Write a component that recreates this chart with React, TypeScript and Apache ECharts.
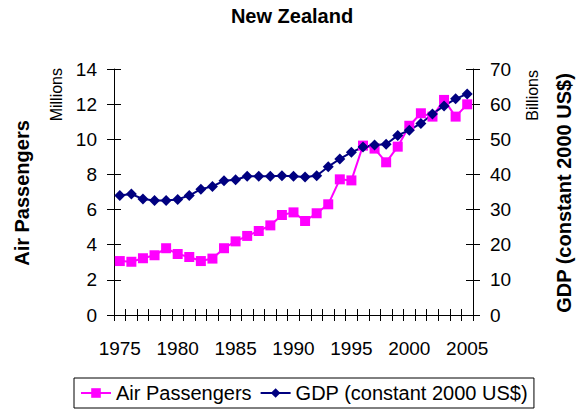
import React, { useEffect, useRef } from "react";
import * as echarts from "echarts";

const years = [
  "1975", "1976", "1977", "1978", "1979", "1980", "1981", "1982", "1983", "1984",
  "1985", "1986", "1987", "1988", "1989", "1990", "1991", "1992", "1993", "1994",
  "1995", "1996", "1997", "1998", "1999", "2000", "2001", "2002", "2003", "2004", "2005",
];

// Millions
const airPassengers = [
  3.07, 3.03, 3.23, 3.4, 3.8, 3.47, 3.3, 3.07, 3.21, 3.8,
  4.19, 4.5, 4.78, 5.1, 5.69, 5.84, 5.35, 5.79, 6.3, 7.72,
  7.66, 9.64, 9.47, 8.69, 9.58, 10.77, 11.48, 11.29, 12.24, 11.29, 11.99,
];

// Billions (constant 2000 US$)
const gdp = [
  34.0, 34.4, 33.0, 32.6, 32.6, 32.9, 34.0, 35.8, 36.6, 38.2,
  38.5, 39.5, 39.5, 39.5, 39.6, 39.5, 39.3, 39.6, 42.2, 44.4,
  46.3, 47.8, 48.4, 48.6, 51.1, 52.6, 54.5, 57.2, 59.5, 61.5, 62.9,
];

const titleText = "New Zealand";
const leftName = "Air Passengers";
const rightName = "GDP (constant 2000 US$)";
const leftUnit = "Millions";
const rightUnit = "Billions";

const FONT = "'Liberation Sans', Arial, sans-serif";

export default function App() {
  const ref = useRef<HTMLDivElement>(null);

  useEffect(() => {
    if (!ref.current) return;
    const chart = echarts.init(ref.current, undefined, { renderer: "svg" });
    const axisLineStyle = { color: "#000", width: 1 };
    const tickLabel = { color: "#000", fontSize: 19, fontFamily: FONT };
    chart.setOption({
      animation: false,
      backgroundColor: "#fff",
      textStyle: { fontFamily: FONT },
      grid: { left: 114, right: 105, top: 69, bottom: 95, containLabel: false },
      xAxis: [
        {
          type: "category",
          data: years,
          position: "bottom",
          boundaryGap: true,
          axisLine: { show: true, lineStyle: axisLineStyle },
          axisTick: { show: true, interval: 0, length: 6, inside: false, lineStyle: axisLineStyle },
          axisLabel: { ...tickLabel, interval: 4, margin: 24 },
          splitLine: { show: false },
        },
        {
          type: "category",
          data: years,
          position: "bottom",
          boundaryGap: true,
          axisLine: { show: false },
          axisTick: { show: true, interval: 0, length: 6, inside: true, lineStyle: axisLineStyle },
          axisLabel: { show: false },
          splitLine: { show: false },
        },
      ],
      yAxis: [
        {
          type: "value",
          position: "left",
          min: 0,
          max: 14,
          interval: 2,
          axisLine: { show: true, lineStyle: axisLineStyle },
          axisTick: { show: true, length: 7, inside: false, lineStyle: axisLineStyle },
          axisLabel: { ...tickLabel, margin: 17 },
          splitLine: { show: false },
        },
        {
          type: "value",
          position: "right",
          min: 0,
          max: 70,
          interval: 10,
          axisLine: { show: true, lineStyle: axisLineStyle },
          axisTick: { show: true, length: 7, inside: false, lineStyle: axisLineStyle },
          axisLabel: { ...tickLabel, margin: 17 },
          splitLine: { show: false },
        },
        {
          type: "value",
          position: "left",
          min: 0,
          max: 14,
          interval: 2,
          axisLine: { show: false },
          axisTick: { show: true, length: 7, inside: true, lineStyle: axisLineStyle },
          axisLabel: { show: false },
          splitLine: { show: false },
        },
        {
          type: "value",
          position: "right",
          min: 0,
          max: 70,
          interval: 10,
          axisLine: { show: false },
          axisTick: { show: true, length: 7, inside: true, lineStyle: axisLineStyle },
          axisLabel: { show: false },
          splitLine: { show: false },
        },
      ],
      legend: {
        left: 74,
        top: 378,
        orient: "horizontal",
        padding: [5, 6],
        itemGap: 8,
        itemWidth: 30,
        itemHeight: 12,
        borderColor: "#000",
        borderWidth: 1,
        borderRadius: 0,
        textStyle: { color: "#000", fontSize: 20, fontFamily: FONT },
        data: [leftName, rightName],
      },
      series: [
        {
          name: leftName,
          type: "line",
          xAxisIndex: 0,
          yAxisIndex: 0,
          data: airPassengers,
          symbol: "rect",
          symbolSize: 10,
          showSymbol: true,
          showAllSymbol: true,
          color: "#FF00FF",
          itemStyle: { color: "#FF00FF" },
          lineStyle: { color: "#FF00FF", width: 2 },
        },
        {
          name: rightName,
          type: "line",
          xAxisIndex: 0,
          yAxisIndex: 1,
          data: gdp,
          symbol: "diamond",
          symbolSize: 11,
          showSymbol: true,
          showAllSymbol: true,
          color: "#000080",
          itemStyle: { color: "#000080" },
          lineStyle: { color: "#000080", width: 2 },
        },
      ],
      graphic: [
        {
          type: "text",
          x: 292,
          y: 16,
          style: {
            text: titleText,
            fill: "#000",
            font: `bold 20px ${FONT}`,
            align: "center",
            verticalAlign: "middle",
          },
        },
        {
          type: "text",
          x: 22,
          y: 193,
          rotation: Math.PI / 2,
          style: {
            text: leftName,
            fill: "#000",
            font: `bold 20px ${FONT}`,
            align: "center",
            verticalAlign: "middle",
          },
        },
        {
          type: "text",
          x: 564,
          y: 193,
          rotation: Math.PI / 2,
          style: {
            text: rightName,
            fill: "#000",
            font: `bold 20px ${FONT}`,
            align: "center",
            verticalAlign: "middle",
          },
        },
        {
          type: "text",
          x: 56,
          y: 68,
          rotation: Math.PI / 2,
          style: {
            text: leftUnit,
            fill: "#000",
            font: `16px ${FONT}`,
            align: "right",
            verticalAlign: "middle",
          },
        },
        {
          type: "text",
          x: 532,
          y: 70,
          rotation: Math.PI / 2,
          style: {
            text: rightUnit,
            fill: "#000",
            font: `16px ${FONT}`,
            align: "right",
            verticalAlign: "middle",
          },
        },
      ],
    });
    return () => chart.dispose();
  }, []);

  return (
    <div
      ref={ref}
      style={{ position: "fixed", left: 0, top: 0, width: 578, height: 410, background: "#fff" }}
    />
  );
}
